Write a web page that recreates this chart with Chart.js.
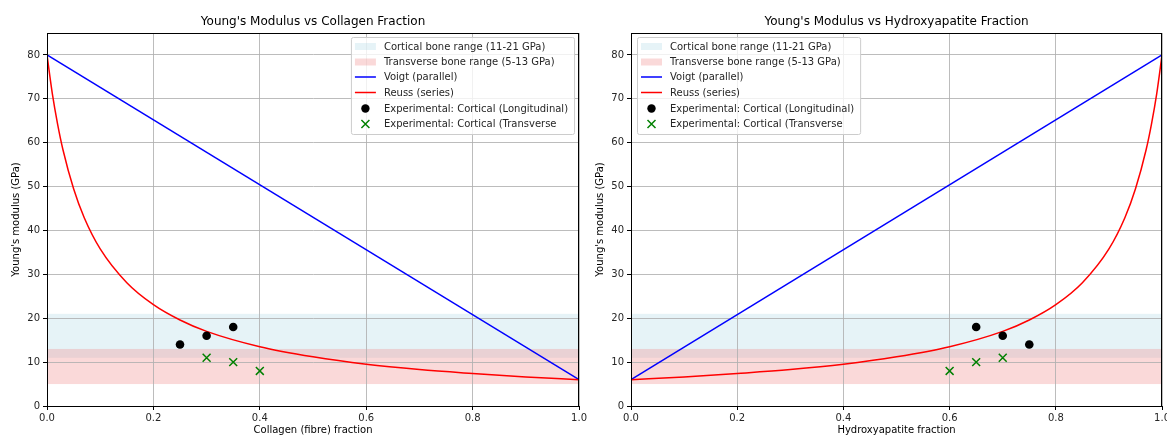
<!DOCTYPE html>
<html>
<head>
<meta charset="utf-8">
<script src="https://cdn.jsdelivr.net/npm/chart.js@4.4.1/dist/chart.umd.min.js"></script>
<style>
  html, body { margin: 0; padding: 0; background: #fff; }
  #wrap { position: relative; width: 1167px; height: 436px; overflow: hidden; }
  canvas { position: absolute; top: 0; }
  #left { left: 0; }
  #right { left: 584px; }
</style>
</head>
<body>
<div id="wrap">
  <canvas id="left" width="589" height="436"></canvas>
  <canvas id="right" width="588" height="436"></canvas>
</div>
<script>
(function () {
  'use strict';

  // ── Data ──
  const xTicks = [0, 0.2, 0.4, 0.6, 0.8, 1.0];
  const yTicks = [0, 10, 20, 30, 40, 50, 60, 70, 80];

  const voigtCollagenX = [0, 1];
  const voigtCollagenY = [80, 6];
  const reussCollagenX = [0, 0.01, 0.02, 0.03, 0.05, 0.07, 0.1, 0.15, 0.2, 0.25, 0.3, 0.4, 0.5, 0.6, 0.7, 0.8, 0.9, 1.0];
  const reussCollagenY = [80, 71.2, 64.2, 58.4, 49.5, 42.9, 35.8, 28.1, 23.1, 19.6, 17.0, 13.5, 11.2, 9.5, 8.3, 7.4, 6.6, 6.0];

  const voigtHaX = [0, 1];
  const voigtHaY = [6, 80];
  const reussHaX = [0, 0.1, 0.2, 0.3, 0.4, 0.5, 0.6, 0.7, 0.75, 0.8, 0.85, 0.9, 0.93, 0.95, 0.97, 0.98, 0.99, 1.0];
  const reussHaY = [6.0, 6.6, 7.4, 8.3, 9.5, 11.2, 13.5, 17.0, 19.6, 23.1, 28.1, 35.8, 42.9, 49.5, 58.4, 64.2, 71.2, 80];

  const longCollagenX = [0.25, 0.30, 0.35];
  const longCollagenY = [14, 16, 18];
  const transCollagenX = [0.30, 0.35, 0.40];
  const transCollagenY = [11, 10, 8];

  const longHaX = [0.65, 0.70, 0.75];
  const longHaY = [18, 16, 14];
  const transHaX = [0.60, 0.65, 0.70];
  const transHaY = [8, 10, 11];

  const corticalRange = [11, 21];
  const transverseRange = [5, 13];

  const legendLabels = [
    'Cortical bone range (11-21 GPa)',
    'Transverse bone range (5-13 GPa)',
    'Voigt (parallel)',
    'Reuss (series)',
    'Experimental: Cortical (Longitudinal)',
    'Experimental: Cortical (Transverse'
  ];

  // ── Style ──
  const FONT = "'DejaVu Sans', sans-serif";
  const C = {
    blue: '#0000ff',
    red: '#ff0000',
    green: '#008000',
    black: '#000000',
    grid: 'rgba(176,176,176,0.85)',
    text: '#262626',
    cortical: 'rgba(173,216,230,0.3)',
    transverse: 'rgba(240,128,128,0.3)'
  };

  const pts = (xs, ys) => xs.map((x, i) => ({ x, y: ys[i] }));

  // bands, frame, legend, title
  const panelPlugin = {
    id: 'panel',
    beforeDraw(chart) {
      const { ctx, chartArea: a, scales: { y } } = chart;
      ctx.save();
      [[corticalRange, C.cortical], [transverseRange, C.transverse]].forEach(([r, col]) => {
        const y1 = y.getPixelForValue(r[1]);
        const y0 = y.getPixelForValue(r[0]);
        ctx.fillStyle = col;
        ctx.fillRect(a.left, y1, a.right - a.left, y0 - y1);
      });
      ctx.restore();
    },
    afterDraw(chart, args, opts) {
      const { ctx, chartArea: a } = chart;
      ctx.save();
      // frame
      ctx.strokeStyle = '#000';
      ctx.lineWidth = 1;
      ctx.strokeRect(Math.round(a.left) + 0.5, Math.round(a.top) + 0.5,
        Math.round(a.right - a.left) - 1, Math.round(a.bottom - a.top));

      // title
      ctx.fillStyle = '#000';
      ctx.font = `12px ${FONT}`;
      ctx.textAlign = 'center';
      ctx.textBaseline = 'middle';
      ctx.fillText(opts.title, (a.left + a.right) / 2, 22);

      // legend
      ctx.font = `10px ${FONT}`;
      let tw = 0;
      legendLabels.forEach(t => { tw = Math.max(tw, ctx.measureText(t).width); });
      const w = 33 + tw + 6;
      const h = 97;
      const bx = opts.legendSide === 'right' ? a.right - 5 - w : a.left + 6;
      const by = a.top + 4;
      ctx.beginPath();
      ctx.roundRect(bx + 0.5, by + 0.5, w, h, 2);
      ctx.fillStyle = 'rgba(255,255,255,0.8)';
      ctx.fill();
      ctx.strokeStyle = '#cccccc';
      ctx.stroke();

      const rowY = [9.5, 25, 40, 55.5, 71.5, 87];
      ctx.textAlign = 'left';
      ctx.textBaseline = 'middle';
      rowY.forEach((ry, i) => {
        const cy = by + ry;
        const hx = bx + 4;
        if (i === 0 || i === 1) {
          ctx.fillStyle = i === 0 ? C.cortical : C.transverse;
          ctx.fillRect(hx, cy - 3.5, 21, 7);
        } else if (i === 2 || i === 3) {
          ctx.strokeStyle = i === 2 ? C.blue : C.red;
          ctx.lineWidth = 1.5;
          ctx.beginPath();
          ctx.moveTo(hx, cy);
          ctx.lineTo(hx + 21, cy);
          ctx.stroke();
        } else if (i === 4) {
          ctx.fillStyle = C.black;
          ctx.beginPath();
          ctx.arc(hx + 10.5, cy, 4.2, 0, Math.PI * 2);
          ctx.fill();
        } else {
          ctx.strokeStyle = C.green;
          ctx.lineWidth = 1.5;
          ctx.beginPath();
          ctx.moveTo(hx + 6.5, cy - 4); ctx.lineTo(hx + 14.5, cy + 4);
          ctx.moveTo(hx + 14.5, cy - 4); ctx.lineTo(hx + 6.5, cy + 4);
          ctx.stroke();
        }
        ctx.fillStyle = C.text;
        ctx.fillText(legendLabels[i], bx + 33, cy + 0.5);
      });
      ctx.restore();
    }
  };

  function makePanel(canvasId, cfg) {
    return new Chart(document.getElementById(canvasId), {
      type: 'scatter',
      data: {
        datasets: [
          {
            type: 'line',
            data: pts(cfg.voigtX, cfg.voigtY),
            borderColor: C.blue,
            borderWidth: 1.5,
            pointRadius: 0,
            fill: false,
            order: 3
          },
          {
            type: 'line',
            data: pts(cfg.reussX, cfg.reussY),
            borderColor: C.red,
            borderWidth: 1.5,
            pointRadius: 0,
            cubicInterpolationMode: 'monotone',
            fill: false,
            order: 2
          },
          {
            data: pts(cfg.longX, cfg.longY),
            pointStyle: 'circle',
            pointRadius: 4.3,
            backgroundColor: C.black,
            borderWidth: 0,
            order: 1
          },
          {
            data: pts(cfg.transX, cfg.transY),
            pointStyle: 'crossRot',
            pointRadius: 5.6,
            borderColor: C.green,
            borderWidth: 1.5,
            order: 0
          }
        ]
      },
      options: {
        responsive: false,
        animation: false,
        layout: { padding: { top: 33, right: 0, left: 0, bottom: 0 } },
        plugins: {
          legend: { display: false },
          tooltip: { enabled: false },
          panel: { title: cfg.title, legendSide: cfg.legendSide }
        },
        scales: {
          x: {
            type: 'linear',
            min: 0,
            max: 1,
            afterBuildTicks: s => { s.ticks = xTicks.map(v => ({ value: v })); },
            afterFit: s => { s.height = 30; },
            ticks: {
              callback: v => Number(v).toFixed(1),
              color: C.text,
              font: { family: FONT, size: 10 },
              padding: 2,
              maxRotation: 0
            },
            grid: { color: C.grid, lineWidth: 1, tickLength: 4, tickColor: '#000' },
            border: { color: '#000', width: 1 },
            title: {
              display: true,
              text: cfg.xLabel,
              color: '#000',
              font: { family: FONT, size: 10 },
              padding: { top: 0, bottom: 0 }
            }
          },
          y: {
            min: 0,
            max: 85,
            afterBuildTicks: s => { s.ticks = yTicks.map(v => ({ value: v })); },
            afterFit: s => { s.width = 47; },
            ticks: {
              color: C.text,
              font: { family: FONT, size: 10 },
              padding: 3
            },
            grid: { color: C.grid, lineWidth: 1, tickLength: 4, tickColor: '#000' },
            border: { color: '#000', width: 1 },
            title: {
              display: true,
              text: "Young's modulus (GPa)",
              color: '#000',
              font: { family: FONT, size: 10 },
              padding: { top: 10, bottom: 0 }
            }
          }
        }
      },
      plugins: [panelPlugin]
    });
  }

  makePanel('left', {
    title: "Young's Modulus vs Collagen Fraction",
    xLabel: 'Collagen (fibre) fraction',
    legendSide: 'right',
    voigtX: voigtCollagenX, voigtY: voigtCollagenY,
    reussX: reussCollagenX, reussY: reussCollagenY,
    longX: longCollagenX, longY: longCollagenY,
    transX: transCollagenX, transY: transCollagenY
  });

  makePanel('right', {
    title: 'Young\'s Modulus vs Hydroxyapatite Fraction',
    xLabel: 'Hydroxyapatite fraction',
    legendSide: 'left',
    voigtX: voigtHaX, voigtY: voigtHaY,
    reussX: reussHaX, reussY: reussHaY,
    longX: longHaX, longY: longHaY,
    transX: transHaX, transY: transHaY
  });
})();
</script>
</body>
</html>
